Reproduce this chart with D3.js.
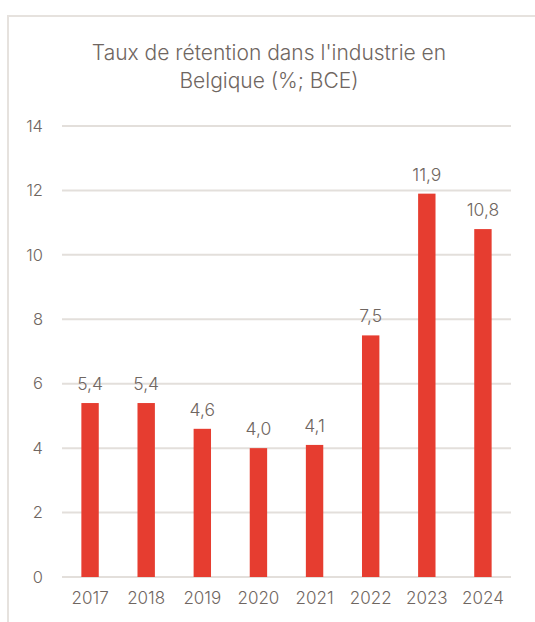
<!DOCTYPE html>
<html>
<head>
<meta charset="utf-8">
<script src="https://cdn.jsdelivr.net/npm/d3@7"></script>
<style>
  body { margin: 0; background: #fff; }
  svg text { font-family: Inter, "Noto Sans", sans-serif; font-weight: 300; fill: #6f6661; }
</style>
</head>
<body>
<svg id="chart" width="535" height="622"></svg>
<script>
const years = ["2017", "2018", "2019", "2020", "2021", "2022", "2023", "2024"];
const values = [5.4, 5.4, 4.6, 4.0, 4.1, 7.5, 11.9, 10.8];
const yTicks = [0, 2, 4, 6, 8, 10, 12, 14];
const titleLines = ["Taux de rétention dans l'industrie en", "Belgique (%; BCE)"];

const width = 535, height = 622;
const margin = { top: 126, right: 24, bottom: 45, left: 62 };
const innerW = width - margin.left - margin.right;
const innerH = height - margin.top - margin.bottom;

const svg = d3.select("#chart");

// frame
svg.append("path")
    .attr("d", `M8,${height} V16 H${width}`)
    .attr("fill", "none")
    .attr("stroke", "#e6e2de")
    .attr("stroke-width", 2);

// title
svg.append("text")
    .attr("x", 269)
    .attr("y", 60)
    .attr("text-anchor", "middle")
    .style("font-size", "21px")
    .selectAll("tspan")
    .data(titleLines)
    .join("tspan")
    .attr("x", 269)
    .attr("dy", (d, i) => i === 0 ? 0 : 28)
    .text(d => d);

const g = svg.append("g")
    .attr("transform", `translate(${margin.left},${margin.top})`);

const x = d3.scaleBand()
    .domain(years)
    .range([0, innerW])
    .paddingInner(0.69)
    .paddingOuter(0.345);

const y = d3.scaleLinear()
    .domain([0, 14])
    .range([innerH, 0]);

// gridlines
g.selectAll(".grid")
    .data(yTicks)
    .join("line")
    .attr("class", "grid")
    .attr("x1", 0)
    .attr("x2", innerW)
    .attr("y1", d => y(d))
    .attr("y2", d => y(d))
    .attr("stroke", "#e3dfdb")
    .attr("stroke-width", 2);

// y labels
const yAxis = g.append("g")
    .call(d3.axisLeft(y).tickValues(yTicks).tickSize(0).tickPadding(19))
    .call(a => a.select(".domain").remove());
yAxis.selectAll("text")
    .style("font-size", "16.5px");

// x labels
const xAxis = g.append("g")
    .attr("transform", `translate(0,${innerH})`)
    .call(d3.axisBottom(x).tickSize(0).tickPadding(15))
    .call(a => a.select(".domain").remove());
xAxis.selectAll("text")
    .style("font-size", "17px");

// bars
g.selectAll(".bar")
    .data(values)
    .join("rect")
    .attr("class", "bar")
    .attr("x", (d, i) => x(years[i]))
    .attr("width", x.bandwidth())
    .attr("y", d => y(d))
    .attr("height", d => innerH - y(d))
    .attr("fill", "#e63d30");

// value labels
const fmt = d => d.toFixed(1).replace(".", ",");
g.selectAll(".val")
    .data(values)
    .join("text")
    .attr("class", "val")
    .attr("x", (d, i) => x(years[i]) + x.bandwidth() / 2)
    .attr("y", d => y(d) - 13)
    .attr("text-anchor", "middle")
    .style("font-size", "17.5px")
    .text(fmt);
</script>
</body>
</html>
